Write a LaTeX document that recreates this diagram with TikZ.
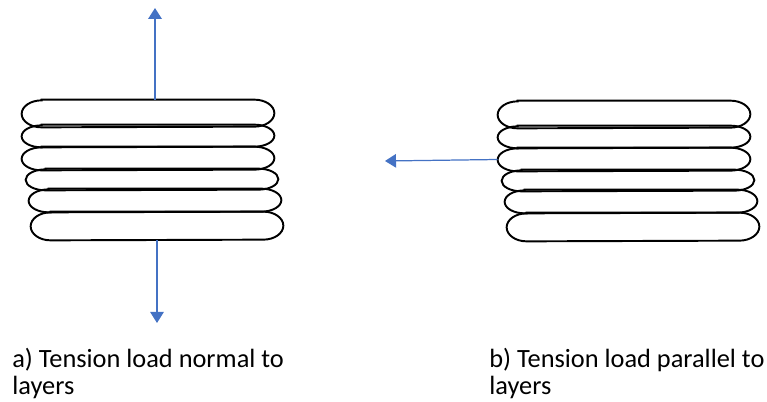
\documentclass[tikz,border=0pt]{standalone}
\usepackage{fontspec}
\setmainfont{Carlito}
\usetikzlibrary{positioning,arrows.meta}
\definecolor{loadblue}{RGB}{68,114,196}
\tikzset{
    x=0.2mm,
    y=-0.2mm,
    layer/.style = {
        shape=rectangle,
        inner sep=0pt,
        minimum width=50.4mm,
        minimum height=#1*0.2mm
    },
    outline/.style = {
        draw,
        line width=1.1pt
    },
    load/.style = {
        draw=loadblue,
        line width=0.7pt
    },
    caption/.style = {
        anchor=base west,
        inner sep=0pt,
        align=left,
        font=\fontsize{15}{15.5}\selectfont
    },
    >={Triangle[width=2.7mm,length=2.2mm]},
}

\begin{document}
\begin{tikzpicture}

            \useasboundingbox (0,0) rectangle (767,402);

            % two stacks of layers, b is a shifted copy of a
            \foreach \s/\sx/\sy in {a/0/0, b/476/1} {
                \foreach \i/\dx/\cy/\h in {1/0/113.5/27, 2/0/136/22, 3/0/158.5/23, 4/4/179.5/21, 5/7/200.5/23, 6/9/226/28} {
                    \node[layer=\h] (\s\i) at (148+\sx+\dx,\cy+\sy) {};
                    \path[outline] ([xshift=4mm]\s\i.north west) -- ([xshift=-4mm]\s\i.north east)
                        arc[start angle=90, end angle=-90, x radius=4mm, y radius=\h*0.1mm]
                        -- ([xshift=4mm]\s\i.south west)
                        arc[start angle=270, end angle=90, x radius=4mm, y radius=\h*0.1mm] -- cycle;
                }
            }

            \coordinate (pullup) at (155,8);
            \coordinate (pulldown) at (157,323);
            \coordinate (pullleft) at (385,161);

            \path[draw=loadblue, line width=1.1pt, ->] (a1.north -| pullup) -- (pullup);
            \path[load, ->] (a6.south -| pulldown) -- (pulldown);
            \path[load, ->] (b3.west) -- (pullleft);

            % base is the last line here
            \node[caption] (capa) at (12,395) {a) Tension load normal to\\layers};
            \node[caption] (capb) at (489,395) {b) Tension load parallel to\\layers};

        \end{tikzpicture}
\end{document}
